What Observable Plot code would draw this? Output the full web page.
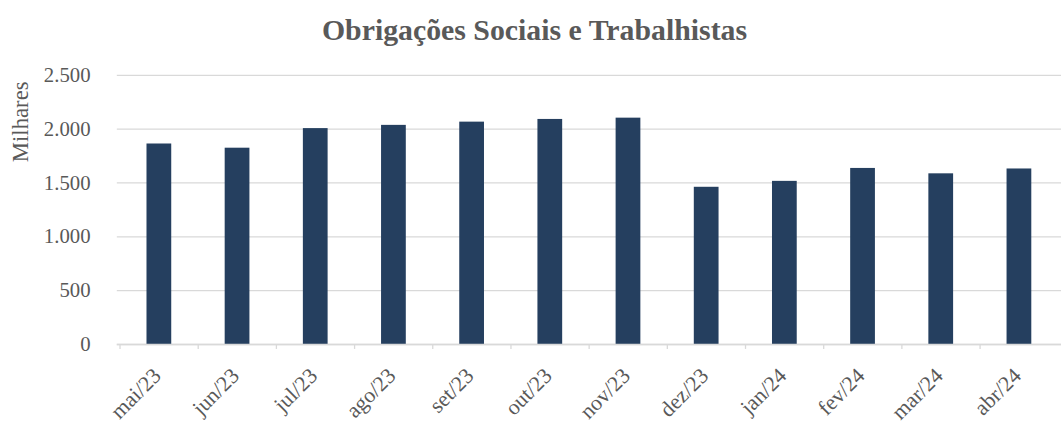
<!DOCTYPE html>
<html>
<head>
<meta charset="utf-8">
<script src="https://cdn.jsdelivr.net/npm/d3@7"></script>
<script src="https://cdn.jsdelivr.net/npm/@observablehq/plot@0.6"></script>
<style>
  html, body { margin: 0; padding: 0; background: #fff; }
  #wrap { width: 1061px; height: 424px; position: relative; overflow: hidden; }
  #title { position: absolute; left: 0; top: 0; width: 1061px; height: 55px; text-align: center;
           font-family: "Liberation Serif", serif; font-weight: bold;
           font-size: 29.8px; color: #595959; line-height: 60px; padding-left: 8px; box-sizing: border-box; white-space: nowrap; }
  #chart { position: absolute; left: 0; top: 55px; }
  #chart svg { display: block; }
</style>
</head>
<body>
<div id="wrap">
  <div id="title">Obrigações Sociais e Trabalhistas</div>
  <div id="chart"></div>
</div>
<script>
const months = ["mai/23","jun/23","jul/23","ago/23","set/23","out/23","nov/23","dez/23","jan/24","fev/24","mar/24","abr/24"];
const values = [1862, 1823, 2005, 2035, 2065, 2090, 2102, 1460, 1515, 1635, 1585, 1630];
const yTicks = [0, 500, 1000, 1500, 2000, 2500];
const yLabel = "Milhares";

const data = months.map((m, i) => ({month: m, value: values[i]}));
const ptBR = d3.formatLocale({decimal: ",", thousands: ".", grouping: [3], currency: ["R$", ""]});
const fmt = ptBR.format(",d");

const W = 1072, H = 369, ML = 118, MR = 0, MT = 20, MB = 77;
const step = (W - ML - MR) / months.length;
const font = "Liberation Serif";

const chart = Plot.plot({
  width: W, height: H,
  marginLeft: ML, marginRight: MR, marginTop: MT, marginBottom: MB,
  style: {fontFamily: font, background: "#fff", overflow: "visible"},
  x: {domain: months, paddingInner: 0.686, paddingOuter: 0.343},
  y: {domain: [0, 2500]},
  marks: [
    Plot.gridY(yTicks, {stroke: "#d9d9d9", strokeOpacity: 1, strokeWidth: 1.3}),
    Plot.barY(data, {x: "month", y: "value", fill: "#253f5f"}),
    Plot.ruleY([0], {stroke: "#d9d9d9", strokeWidth: 1.5}),
    Plot.axisX({ticks: months, tickSize: 5, stroke: "#d9d9d9", tickFormat: null, dx: -step / 2, label: null, strokeWidth: 1.3}),
    Plot.axisX({ticks: months, tickSize: 0, tickRotate: -45, tickPadding: 28, dx: -2, fontSize: 22, fill: "#595959", label: null}),
    Plot.axisY({ticks: yTicks, tickSize: 0, tickFormat: fmt, tickPadding: 27, fontSize: 21, fill: "#595959", label: null}),
    Plot.text([yLabel], {frameAnchor: "top-left", text: d => d, rotate: -90, textAnchor: "middle", lineAnchor: "middle",
                         dx: -98, dy: 47, fontSize: 23, fill: "#595959"})
  ]
});
document.getElementById("chart").appendChild(chart);
</script>
</body>
</html>
